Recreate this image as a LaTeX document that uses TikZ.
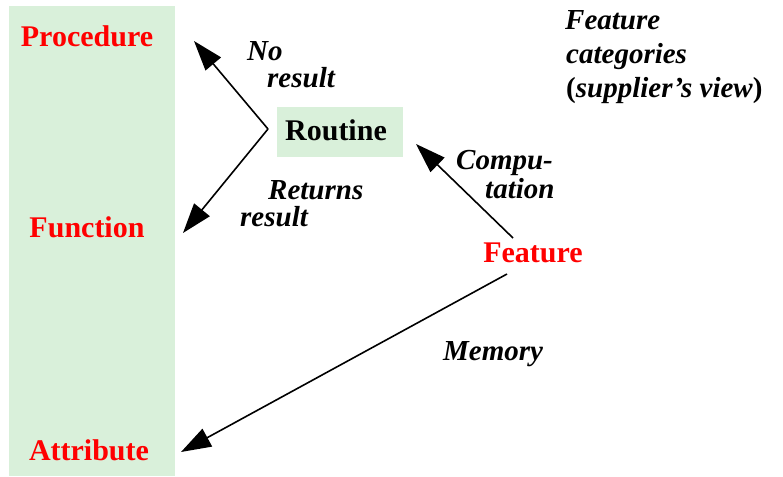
\documentclass[tikz,border=0pt]{standalone}
\usepackage{fontspec}
\setmainfont{Liberation Serif}
\usetikzlibrary{arrows.meta}
\definecolor{palegreen}{HTML}{D9F0DA}
\definecolor{cred}{HTML}{FF0000}
\begin{document}
\begin{tikzpicture}[x=1pt,y=-1pt,
  cat/.style={text=cred,font=\fontsize{30}{30}\selectfont\bfseries,inner sep=0pt,anchor=base},
  lbl/.style={font=\fontsize{29}{29}\selectfont\bfseries\itshape,inner sep=0pt,anchor=base west},
  arr/.style={line width=1.6pt,-{Triangle[length=30pt,width=20pt]}}]
\useasboundingbox (0,0) rectangle (783,476);
\fill[palegreen] (9,6) rectangle (175,476);
\node[cat] (proc) at (87,47) {Procedure};
\node[cat] (func) at (87,237) {Function};
\node[cat] (attr) at (89,460) {Attribute};
\node[fill=palegreen,minimum width=126pt,minimum height=50pt,inner sep=0pt] (routine) at (340,132) {};
\node[font=\fontsize{30}{30}\selectfont\bfseries,inner sep=0pt,anchor=base] (routinet) at (336,140) {Routine};
\node[cat] (feat) at (533,262) {Feature};
\node[lbl] (no) at (247,61) {No};
\node[lbl] (nores) at (267,88) {result};
\node[lbl] (ret) at (268,199) {Returns};
\node[lbl] (retres) at (240,226) {result};
\node[lbl] (comp) at (456,169) {Compu-};
\node[lbl] (tat) at (485,198) {tation};
\node[lbl] (mem) at (443,360) {Memory};
\node[lbl] (t1) at (565,30) {Feature};
\node[lbl] (t2) at (566,64) {categories};
\node[lbl] (t3) at (566,98) {\upshape(\itshape supplier’s view\upshape)};
\coordinate (v) at (268,129);
\coordinate (ptip) at (194,41);
\coordinate (ftip) at (183,233);
\coordinate (cs) at (513,238);
\coordinate (ctip) at (416,144);
\coordinate (ms) at (507,274);
\coordinate (mtip) at (181,452);
\draw[arr] (v) -- (ptip);
\draw[arr] (v) -- (ftip);
\draw[arr] (cs) -- (ctip);
\draw[arr] (ms) -- (mtip);
\end{tikzpicture}
\end{document}
